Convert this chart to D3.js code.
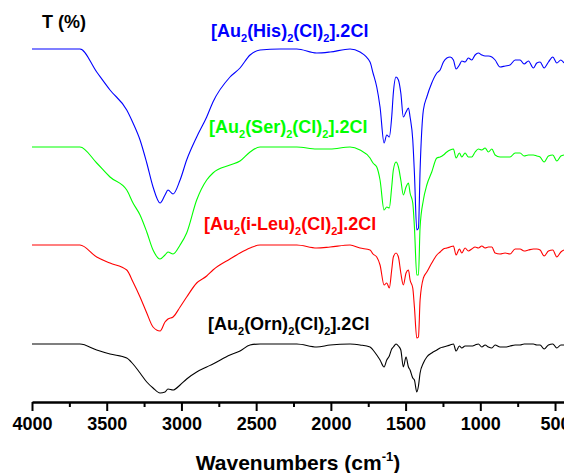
<!DOCTYPE html>
<html>
<head>
<meta charset="utf-8">
<script src="https://cdn.jsdelivr.net/npm/d3@7"></script>
<style>
  body { margin: 0; background: #fff; }
  svg { display: block; font-family: Arial, "Liberation Sans", sans-serif; }
</style>
</head>
<body>
<div id="chart"></div>
<script>
// wavenumber grid (cm-1), shared by all four spectra
const wavenumbers = [
  4000, 3913, 3679, 3567, 3478, 3366, 3324, 3277, 3232, 3190,
  3143, 3110, 3090, 3056, 3009, 2965, 2898, 2831, 2789, 2675,
  2608, 2541, 2474, 2340, 2228, 2095, 2005, 1872, 1805, 1738,
  1718, 1693, 1671, 1644, 1626, 1609, 1593, 1582, 1564, 1548,
  1532, 1515, 1497, 1481, 1470, 1452, 1441, 1425, 1414, 1403,
  1381, 1358, 1325, 1291, 1269, 1247, 1224, 1202, 1180, 1162,
  1140, 1124, 1102, 1080, 1057, 1035, 1013, 990, 968, 946,
  923, 901, 868, 834, 801, 767, 734, 707, 678, 645,
  622, 600, 573, 544, 515, 488, 461, 440
];

// stacked transmittance (offset, arbitrary units)
const hisT = [
  353, 353, 353, 330, 312, 292, 279, 262, 239, 215,
  199, 207, 212, 208, 222, 242, 265, 285, 300, 325,
  334, 347, 352, 353, 353, 349, 350, 353, 350, 340,
  329, 315, 295, 259, 267, 265, 285, 309, 325, 322,
  309, 285, 290, 294, 285, 262, 229, 172, 174, 232,
  292, 305, 319, 329, 332, 340, 344, 345, 342, 333,
  337, 341, 340, 344, 342, 347, 349, 347, 346, 346,
  345, 342, 335, 336, 337, 342, 342, 338, 341, 334,
  339, 340, 334, 340, 345, 339, 342, 339
];
const serT = [
  255, 255, 255, 239, 225, 212, 199, 187, 170, 152,
  143, 147, 150, 148, 157, 169, 202, 222, 229, 237,
  241, 250, 255, 255, 255, 253, 253, 255, 252, 244,
  239, 235, 222, 192, 195, 194, 215, 232, 240, 235,
  222, 207, 215, 219, 209, 199, 175, 127, 127, 175,
  202, 217, 230, 244, 245, 247, 250, 252, 253, 244,
  249, 245, 249, 245, 245, 250, 253, 252, 254, 250,
  253, 247, 245, 245, 245, 249, 249, 246, 247, 247,
  246, 245, 240, 246, 247, 241, 246, 247
];
const ileuT = [
  157, 157, 157, 145, 139, 132, 120, 105, 89, 75,
  71, 80, 83, 85, 95, 105, 119, 126, 132, 143,
  149, 154, 157, 157, 157, 154, 155, 157, 154, 152,
  148, 145, 137, 117, 119, 114, 132, 145, 149, 145,
  129, 117, 129, 132, 122, 114, 95, 64, 65, 102,
  124, 130, 139, 147, 150, 153, 154, 155, 156, 147,
  153, 149, 154, 151, 153, 155, 154, 156, 154, 155,
  155, 149, 148, 149, 148, 153, 153, 151, 152, 153,
  153, 152, 146, 151, 152, 145, 150, 152
];
const ornT = [
  58, 58, 58, 52, 48, 44, 38, 29, 20, 14,
  9, 10, 13, 12, 17, 23, 30, 35, 38, 47,
  51, 57, 58, 58, 58, 55, 57, 58, 57, 55,
  52, 47, 42, 35, 42, 46, 53, 55, 58, 56,
  52, 35, 45, 35, 32, 24, 22, 10, 16, 29,
  39, 45, 49, 52, 54, 55, 56, 57, 58, 51,
  56, 54, 56, 56, 56, 57, 58, 55, 57, 55,
  54, 57, 55, 55, 56, 57, 57, 58, 58, 58,
  57, 57, 53, 57, 58, 54, 57, 57
];

const seriesNames = ["His", "Ser", "i-Leu", "Orn"];
const seriesColors = ["#0000ff", "#00ff00", "#ff0000", "#000000"];
const seriesValues = [hisT, serT, ileuT, ornT];

const majorTicks = [4000, 3500, 3000, 2500, 2000, 1500, 1000, 500];
const minorTicks = [3750, 3250, 2750, 2250, 1750, 1250, 750];

const width = 564;
const height = 473;
const axisY = 402;

const x = d3.scaleLinear().domain([4000, 440]).range([32, 564]);
const y = d3.scaleLinear().domain([0, 400]).range([axisY, 2]);

const svg = d3
  .select("#chart")
  .append("svg")
  .attr("width", width)
  .attr("height", height);

const line = d3
  .line()
  .curve(d3.curveMonotoneX)
  .x((d) => x(d[0]))
  .y((d) => y(d[1]));

svg
  .append("g")
  .selectAll("path")
  .data(seriesValues)
  .enter()
  .append("path")
  .attr("d", (values) => line(wavenumbers.map((w, i) => [w, values[i]])))
  .attr("fill", "none")
  .attr("stroke", (d, i) => seriesColors[i])
  .attr("stroke-width", 1.1)
  .attr("stroke-linejoin", "round");

// labels: [Au2(X)2(Cl)2].2Cl with subscripts
const labelPos = [
  [211, 37],
  [209, 133],
  [204, 230],
  [208, 330],
];

const labels = svg
  .append("g")
  .selectAll("text")
  .data(seriesNames)
  .enter()
  .append("text")
  .attr("x", (d, i) => labelPos[i][0])
  .attr("y", (d, i) => labelPos[i][1])
  .attr("fill", (d, i) => seriesColors[i])
  .attr("font-size", 18)
  .attr("font-weight", "bold");

labels.each(function (name) {
  const t = d3.select(this);
  const parts = ["[Au", "2", `(${name})`, "2", "(Cl)", "2", "].2Cl"];
  parts.forEach((text, i) => {
    const sub = i % 2 === 1;
    t.append("tspan")
      .text(text)
      .attr("font-size", sub ? 11 : 18)
      .attr("dy", i === 0 ? 0 : sub ? 5 : -5);
  });
});

// x axis
const xAxis = svg
  .append("g")
  .attr("transform", `translate(0,${axisY})`)
  .call(
    d3
      .axisBottom(x)
      .tickValues(majorTicks)
      .tickFormat(d3.format("d"))
      .tickSize(9)
      .tickSizeOuter(0)
      .tickPadding(6)
  );

xAxis.select(".domain").attr("stroke-width", 2.5);
xAxis.selectAll(".tick line").attr("stroke-width", 2);
xAxis
  .selectAll(".tick text")
  .attr("font-size", 18)
  .attr("font-weight", "bold")
  .attr("font-family", "Arial, 'Liberation Sans', sans-serif")
  .attr("fill", "#000");

svg
  .append("g")
  .attr("transform", `translate(0,${axisY})`)
  .call(d3.axisBottom(x).tickValues(minorTicks).tickSize(5).tickFormat(""))
  .call((g) => g.select(".domain").remove())
  .selectAll(".tick line")
  .attr("stroke-width", 2);

const title = svg
  .append("text")
  .attr("x", 298)
  .attr("y", 470)
  .attr("text-anchor", "middle")
  .attr("font-size", 21)
  .attr("font-weight", "bold");
title.append("tspan").text("Wavenumbers (cm");
title.append("tspan").text("-1").attr("font-size", 13).attr("dy", -9);
title.append("tspan").text(")").attr("dy", 9);

svg
  .append("text")
  .attr("x", 42)
  .attr("y", 28)
  .attr("font-size", 18)
  .attr("font-weight", "bold")
  .text("T (%)");
</script>
</body>
</html>
